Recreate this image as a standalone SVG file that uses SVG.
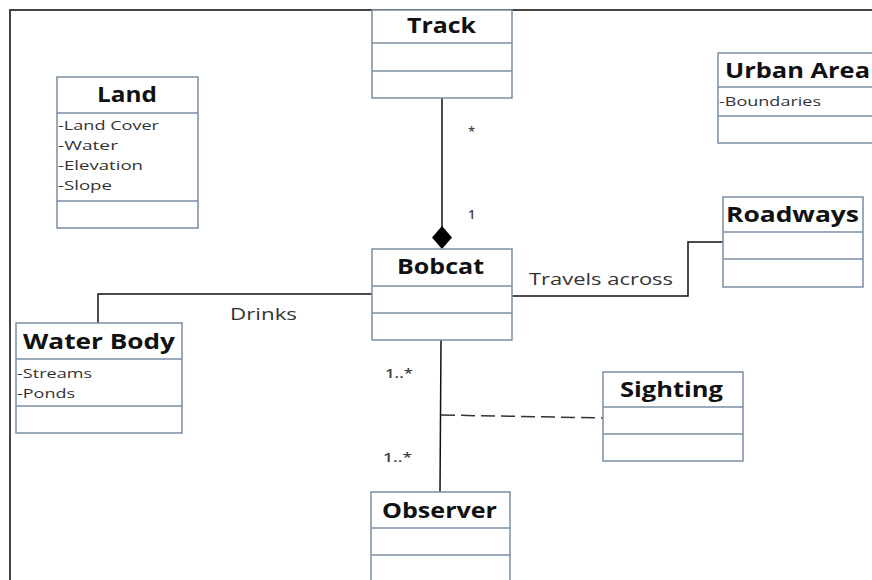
<svg xmlns="http://www.w3.org/2000/svg" width="872" height="580" viewBox="0 0 872 580">
<style>
.box{fill:#fff;stroke:#7a8ea3;stroke-width:1.5}
.div{stroke:#7a8ea3;stroke-width:1.5}
.t{font-family:"Open Sans","Noto Sans",sans-serif;font-weight:bold;font-size:22px;fill:#111}
.a{font-family:"Open Sans","Noto Sans",sans-serif;font-size:13.5px;fill:#333}
.l{font-family:"Open Sans","Noto Sans",sans-serif;font-size:17px;fill:#333}
.m{font-family:"Open Sans","Noto Sans",sans-serif;font-size:13px;font-weight:600;fill:#444}
.c{fill:none;stroke:#111;stroke-width:1.5}
</style>
<rect width="872" height="580" fill="#fff"/>
<path d="M10 580 V10 H872" fill="none" stroke="#444" stroke-width="2"/>
<g id="connectors">
<line class="c" x1="442" y1="98" x2="442" y2="228"/>
<polygon points="442,226 452,237.5 442,249 432,237.5" fill="#000"/>
<polyline class="c" points="98,323 98,294 372,294"/>
<polyline class="c" points="512,296 688,296 688,242 723,242"/>
<line class="c" x1="441" y1="340" x2="440" y2="492"/>
<line x1="441" y1="415" x2="603" y2="418" stroke="#333" stroke-width="1.5" stroke-dasharray="14,6"/>
<text class="m" x="468" y="136">*</text>
<text class="m" x="468" y="219">1</text>
<text class="l" x="230" y="320" textLength="67" lengthAdjust="spacingAndGlyphs">Drinks</text>
<text class="l" x="529" y="285" textLength="144" lengthAdjust="spacingAndGlyphs">Travels across</text>
<text class="m" x="385" y="378" textLength="28" lengthAdjust="spacingAndGlyphs">1..*</text>
<text class="m" x="383" y="462" textLength="29" lengthAdjust="spacingAndGlyphs">1..*</text>
</g>
<g id="track">
<rect class="box" x="372" y="10" width="140" height="88"/>
<line class="div" x1="372" y1="43" x2="512" y2="43"/>
<line class="div" x1="372" y1="71" x2="512" y2="71"/>
<text class="t" x="407" y="33" textLength="69" lengthAdjust="spacingAndGlyphs">Track</text>
</g>
<g id="land">
<rect class="box" x="57" y="77" width="141" height="151"/>
<line class="div" x1="57" y1="113" x2="198" y2="113"/>
<line class="div" x1="57" y1="201" x2="198" y2="201"/>
<text class="t" x="97" y="102" textLength="60" lengthAdjust="spacingAndGlyphs">Land</text>
<text class="a" x="58" y="130" textLength="101" lengthAdjust="spacingAndGlyphs">-Land Cover</text>
<text class="a" x="58" y="150" textLength="60" lengthAdjust="spacingAndGlyphs">-Water</text>
<text class="a" x="58" y="170" textLength="85" lengthAdjust="spacingAndGlyphs">-Elevation</text>
<text class="a" x="58" y="190" textLength="54" lengthAdjust="spacingAndGlyphs">-Slope</text>
</g>
<g id="urban-area">
<rect class="box" x="718" y="53" width="170" height="90"/>
<line class="div" x1="718" y1="87" x2="872" y2="87"/>
<line class="div" x1="718" y1="116" x2="872" y2="116"/>
<text class="t" x="725" y="78" textLength="145" lengthAdjust="spacingAndGlyphs">Urban Area</text>
<text class="a" x="719" y="106" textLength="102" lengthAdjust="spacingAndGlyphs">-Boundaries</text>
</g>
<g id="bobcat">
<rect class="box" x="372" y="249" width="140" height="91"/>
<line class="div" x1="372" y1="286" x2="512" y2="286"/>
<line class="div" x1="372" y1="313" x2="512" y2="313"/>
<text class="t" x="397" y="274" textLength="87" lengthAdjust="spacingAndGlyphs">Bobcat</text>
</g>
<g id="water-body">
<rect class="box" x="16" y="323" width="166" height="110"/>
<line class="div" x1="16" y1="359" x2="182" y2="359"/>
<line class="div" x1="16" y1="406" x2="182" y2="406"/>
<text class="t" x="23" y="349" textLength="152" lengthAdjust="spacingAndGlyphs">Water Body</text>
<text class="a" x="17" y="378" textLength="75" lengthAdjust="spacingAndGlyphs">-Streams</text>
<text class="a" x="17" y="398" textLength="58" lengthAdjust="spacingAndGlyphs">-Ponds</text>
</g>
<g id="roadways">
<rect class="box" x="723" y="197" width="140" height="90"/>
<line class="div" x1="723" y1="232" x2="863" y2="232"/>
<line class="div" x1="723" y1="259" x2="863" y2="259"/>
<text class="t" x="726" y="222" textLength="133" lengthAdjust="spacingAndGlyphs">Roadways</text>
</g>
<g id="sighting">
<rect class="box" x="603" y="372" width="140" height="89"/>
<line class="div" x1="603" y1="407" x2="743" y2="407"/>
<line class="div" x1="603" y1="434" x2="743" y2="434"/>
<text class="t" x="620" y="397" textLength="103" lengthAdjust="spacingAndGlyphs">Sighting</text>
</g>
<g id="observer">
<rect class="box" x="371" y="492" width="139" height="100"/>
<line class="div" x1="371" y1="528" x2="510" y2="528"/>
<line class="div" x1="371" y1="555" x2="510" y2="555"/>
<text class="t" x="382" y="518" textLength="115" lengthAdjust="spacingAndGlyphs">Observer</text>
</g>
</svg>
